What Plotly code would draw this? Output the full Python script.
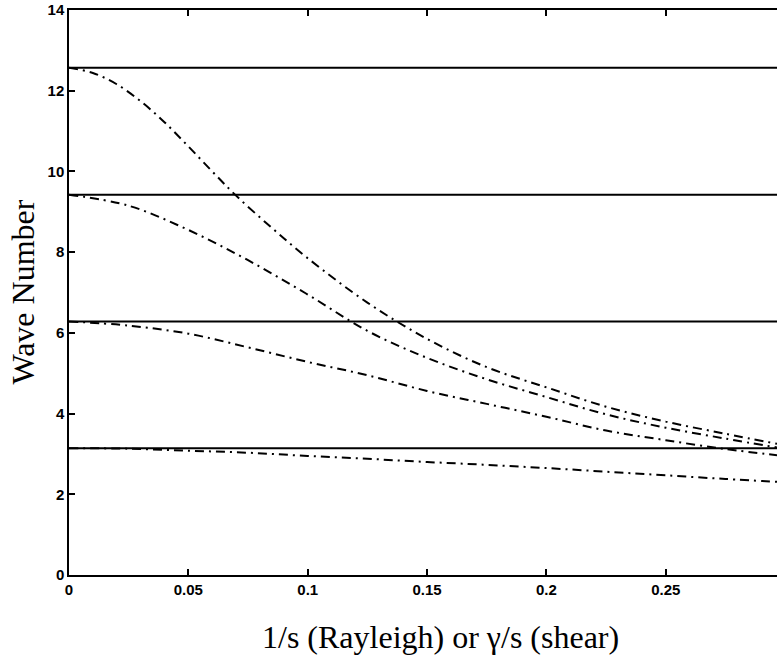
import numpy as np
import plotly.graph_objects as go

# ---- data ----
x_vals = [0, 0.025, 0.05, 0.075, 0.1, 0.125, 0.15, 0.175, 0.2, 0.225, 0.25, 0.275, 0.2966]
curve_pi = [3.1416, 3.13, 3.08, 3.03, 2.95, 2.88, 2.80, 2.73, 2.65, 2.56, 2.47, 2.38, 2.31]
curve_2pi = [6.2832, 6.18, 5.98, 5.64, 5.28, 4.95, 4.56, 4.24, 3.92, 3.58, 3.34, 3.12, 2.97]
curve_3pi = [9.4248, 9.15, 8.55, 7.80, 6.95, 6.05, 5.38, 4.85, 4.41, 3.98, 3.65, 3.38, 3.16]
x_4pi = [0, 0.01, 0.02, 0.03, 0.04, 0.05, 0.06, 0.07, 0.085, 0.1, 0.125, 0.15,
         0.175, 0.2, 0.225, 0.25, 0.275, 0.2966]
curve_4pi = [12.5664, 12.44, 12.16, 11.74, 11.22, 10.62, 10.0, 9.40, 8.6, 7.85, 6.75, 5.85,
             5.15, 4.65, 4.17, 3.80, 3.50, 3.25]
levels = [3.1416, 6.2832, 9.4248, 12.5664]
x_max = 0.2966
x_ticks = [0, 0.05, 0.1, 0.15, 0.2, 0.25]
x_ticktext = ["0", "0.05", "0.1", "0.15", "0.2", "0.25"]
y_ticks = [0, 2, 4, 6, 8, 10, 12, 14]

fig = go.Figure()

for lv in levels:
    fig.add_trace(go.Scatter(x=[0, x_max], y=[lv, lv], mode="lines",
                             line=dict(color="black", width=2), showlegend=False,
                             hoverinfo="skip"))

for xs, c in [(x_vals, curve_pi), (x_vals, curve_2pi), (x_vals, curve_3pi), (x_4pi, curve_4pi)]:
    fig.add_trace(go.Scatter(x=xs, y=c, mode="lines",
                             line=dict(color="black", width=2, shape="spline",
                                       dash="9px,5px,2px,5px"),
                             showlegend=False))

tickfont = dict(family="Liberation Sans, Arial, sans-serif", size=15, color="black", weight="bold")
serif = "Liberation Serif, Times New Roman, serif"

fig.update_layout(
    width=777, height=657,
    margin=dict(l=69, r=0, t=10, b=82),
    paper_bgcolor="white", plot_bgcolor="white",
    xaxis=dict(range=[0, x_max], tickvals=x_ticks, ticktext=x_ticktext,
               ticks="inside", ticklen=6, tickcolor="black", tickwidth=1.5,
               showline=True, linecolor="black", linewidth=1.5,
               showgrid=False, zeroline=False, tickfont=tickfont),
    xaxis2=dict(range=[0, x_max], overlaying="x", side="top", tickvals=x_ticks,
                ticks="inside", ticklen=6, tickcolor="black", tickwidth=1.5,
                showline=True, linecolor="black", linewidth=1.5,
                showgrid=False, zeroline=False, showticklabels=False),
    yaxis=dict(range=[0, 14], tickvals=y_ticks,
               ticks="inside", ticklen=6, tickcolor="black", tickwidth=1.5,
               showline=True, linecolor="black", linewidth=1.5,
               showgrid=False, zeroline=False, tickfont=tickfont),
    annotations=[
        dict(text="1/s (Rayleigh) or γ/s (shear)", xref="paper", yref="paper",
             x=(440 - 69) / (777 - 69), y=-(637 - 575) / (575 - 10),
             showarrow=False, xanchor="center", yanchor="middle",
             font=dict(family=serif, size=32, color="black")),
        dict(text="Wave Number", xref="paper", yref="paper",
             x=-(69 - 22) / (777 - 69), y=0.5,
             textangle=-90, showarrow=False, xanchor="center", yanchor="middle",
             font=dict(family=serif, size=32, color="black")),
    ],
)
# invisible trace to activate the mirrored top axis
fig.add_trace(go.Scatter(x=[0], y=[0], xaxis="x2", mode="markers",
                         marker=dict(opacity=0), showlegend=False, hoverinfo="skip"))

fig.write_html("out.html")
